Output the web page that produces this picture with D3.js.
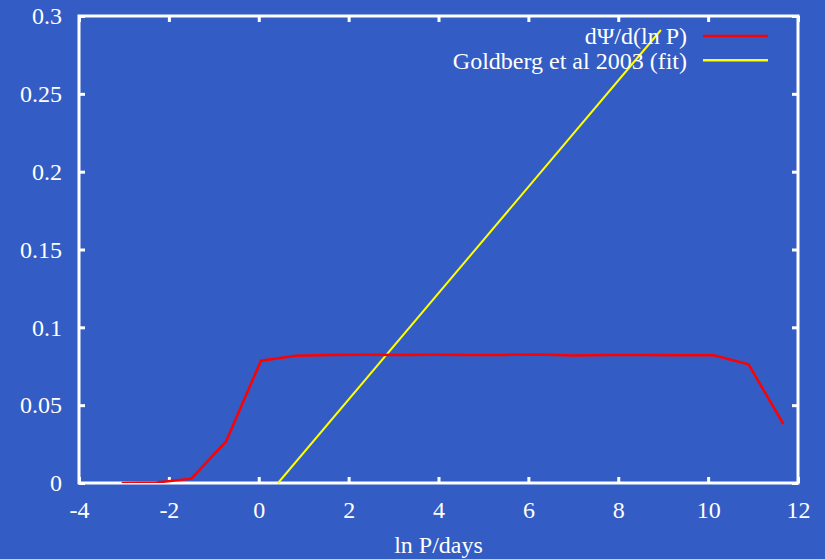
<!DOCTYPE html>
<html>
<head>
<meta charset="utf-8">
<script src="https://cdn.jsdelivr.net/npm/d3@7"></script>
<style>
  body { margin: 0; background: #335cc4; }
  svg { display: block; font-family: "Liberation Serif", "DejaVu Serif", serif; }
</style>
</head>
<body>
<svg id="chart"></svg>
<script>
// ln P values and dPsi/d(ln P)
const lnP = [-3.05, -2.275, -1.5, -0.725, 0.05, 0.825, 1.6, 2.375, 3.15, 3.925, 4.7,
  5.475, 6.25, 7.025, 7.8, 8.575, 9.35, 10.125, 10.9, 11.675];
const dPsi = [0, 0.0003, 0.0028, 0.0268, 0.0786, 0.0818, 0.0823, 0.0824, 0.0822, 0.0824, 0.0823,
  0.0823, 0.0825, 0.0819, 0.0822, 0.0822, 0.082, 0.082, 0.0762, 0.0379];
// Goldberg et al 2003 fit, end points
const fitX = [0.43, 8.95];
const fitY = [0, 0.291];

const xTicks = [-4, -2, 0, 2, 4, 6, 8, 10, 12];
const yTicks = [0, 0.05, 0.1, 0.15, 0.2, 0.25, 0.3];
const seriesNames = ['d\u03A8/d(ln P)', 'Goldberg et al 2003 (fit)'];
const seriesColors = ['#ff0000', '#ffff00'];

const width = 825, height = 559;
const margin = {top: 16, right: 27, bottom: 76, left: 79};
const w = width - margin.left - margin.right;
const h = height - margin.top - margin.bottom;
const fontFamily = '"Liberation Serif", "DejaVu Serif", serif';
const fontSize = 24;

const svg = d3.select('#chart').attr('width', width).attr('height', height);
const chart = svg.append('g').attr('transform', `translate(${margin.left},${margin.top})`);

const x = d3.scaleLinear().domain([-4, 12]).range([0, w]);
const y = d3.scaleLinear().domain([0, 0.3]).range([h, 0]);

// axes with inward ticks, mirrored on top and right
const tickLen = 6;
chart.append('g')
  .attr('transform', `translate(0,${h})`)
  .call(d3.axisBottom(x).tickValues(xTicks).tickSize(-tickLen).tickPadding(18).tickFormat(d => String(d)))
  .call(g => g.select('.domain').remove());
chart.append('g')
  .call(d3.axisTop(x).tickValues(xTicks).tickSize(-tickLen).tickFormat(''))
  .call(g => g.select('.domain').remove());
chart.append('g')
  .call(d3.axisLeft(y).tickValues(yTicks).tickSize(-tickLen).tickPadding(17).tickFormat(d => String(+d.toFixed(2))))
  .call(g => g.select('.domain').remove());
chart.append('g')
  .attr('transform', `translate(${w},0)`)
  .call(d3.axisRight(y).tickValues(yTicks).tickSize(-tickLen).tickFormat(''))
  .call(g => g.select('.domain').remove());

chart.selectAll('g').attr('font-family', fontFamily).attr('font-size', fontSize);
chart.selectAll('.tick line').attr('stroke', '#fff').attr('stroke-width', 3);
chart.selectAll('.tick text').attr('fill', '#fff');

chart.append('rect')
  .attr('width', w).attr('height', h)
  .attr('fill', 'none').attr('stroke', '#fff').attr('stroke-width', 3);

svg.append('clipPath').attr('id', 'clip')
  .append('rect').attr('width', w).attr('height', h);

const plot = chart.append('g').attr('clip-path', 'url(#clip)');
const line = d3.line().x(d => x(d[0])).y(d => y(d[1]));

plot.append('path')
  .datum(d3.zip(fitX, fitY))
  .attr('d', line)
  .attr('fill', 'none').attr('stroke', seriesColors[1]).attr('stroke-width', 2);

plot.append('path')
  .datum(d3.zip(lnP, dPsi))
  .attr('d', line)
  .attr('fill', 'none').attr('stroke', seriesColors[0]).attr('stroke-width', 2.5);

// legend, drawn over the lines
const legend = chart.append('g').attr('transform', `translate(${w - 111},0)`);
seriesNames.forEach((name, i) => {
  const ly = 20 + i * 24.3;
  legend.append('text')
    .attr('x', 0).attr('y', ly).attr('dy', '0.35em')
    .attr('text-anchor', 'end')
    .attr('fill', '#fff').style('font-size', fontSize + 'px')
    .text(name);
  legend.append('line')
    .attr('x1', 16).attr('x2', 81).attr('y1', ly).attr('y2', ly)
    .attr('stroke', seriesColors[i]).attr('stroke-width', 2.5);
});

svg.append('text')
  .attr('x', margin.left + w / 2).attr('y', 553)
  .attr('text-anchor', 'middle')
  .attr('fill', '#fff').style('font-size', fontSize + 'px')
  .text('ln P/days');
</script>
</body>
</html>
